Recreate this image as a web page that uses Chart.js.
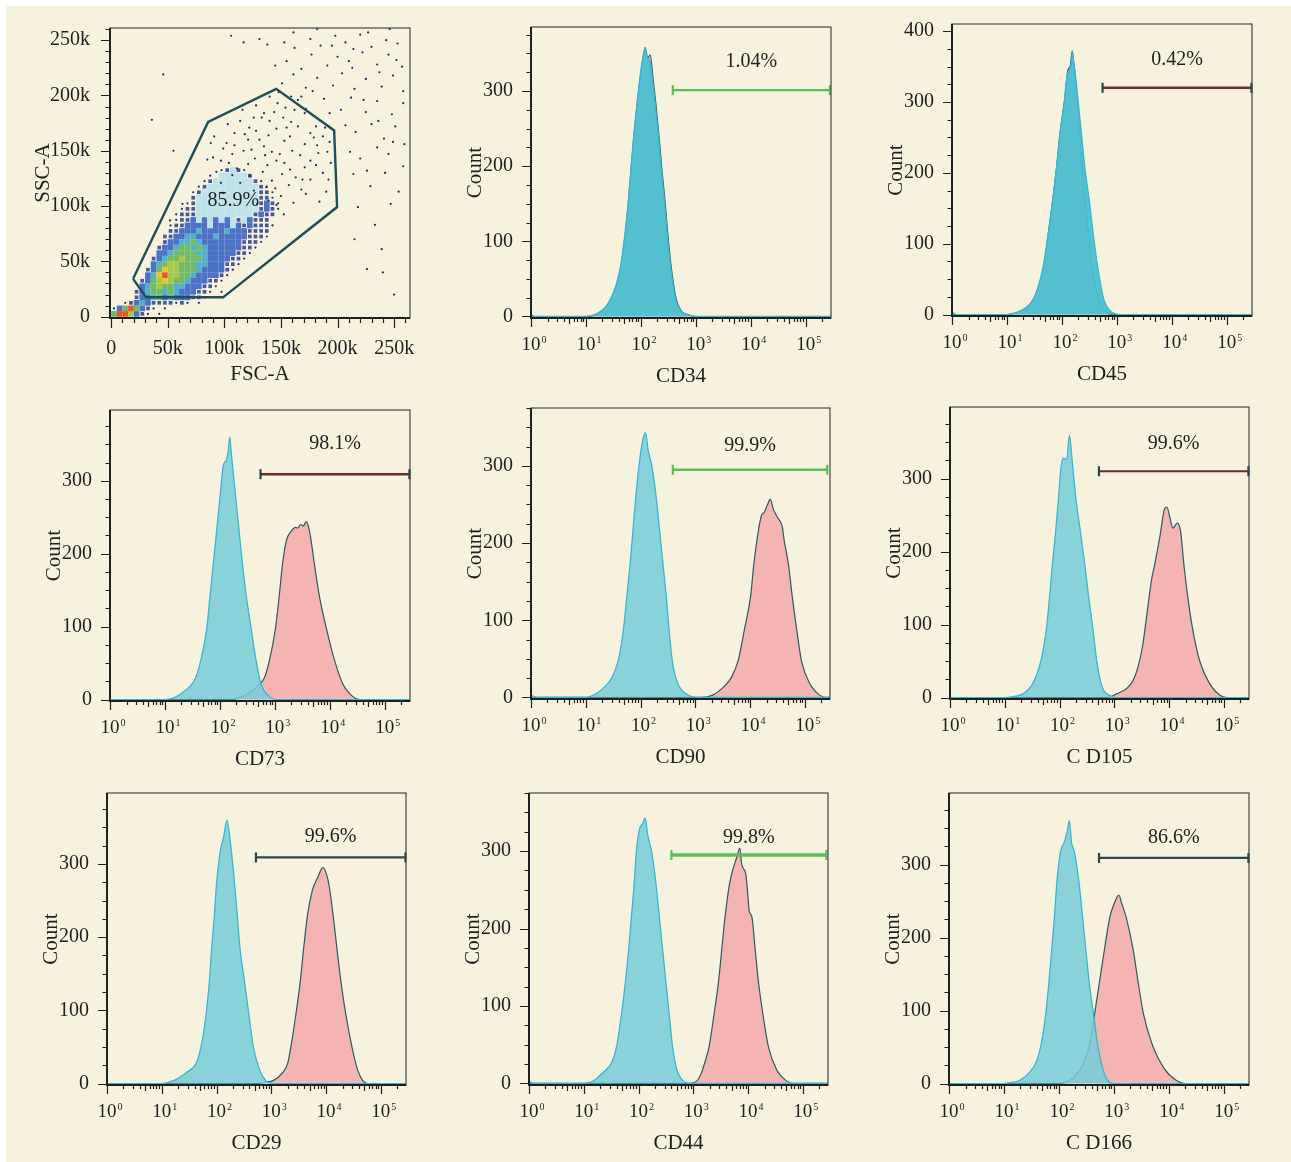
<!DOCTYPE html>
<html>
<head>
<meta charset="utf-8">
<script src="https://cdn.jsdelivr.net/npm/chart.js@4.4.1/dist/chart.umd.min.js"></script>
<style>
  body { margin: 0; background: #ffffff; }
  #page { position: absolute; left: 6px; top: 6px; width: 1285px; height: 1156px; background: #f6f2dd; }
  canvas { position: absolute; }
</style>
</head>
<body>
<div id="page"></div>
<script>
// ---------- data: histograms, [log10 fluorescence, count] ----------
const markers = ["CD34", "CD45", "CD73", "CD90", "C D105", "CD29", "CD44", "C D166"]
const gatePercent = ["1.04%", "0.42%", "98.1%", "99.9%", "99.6%", "99.6%", "99.8%", "86.6%"]
const gateFrom = [2.58, 2.74, 2.74, 2.59, 2.72, 2.72, 2.60, 2.73]
const gateTo = [5.44, 5.45, 5.45, 5.41, 5.45, 5.45, 5.43, 5.45]
const gateLevel = [301, 320, 309, 295, 310, 309, 295, 309]
const labelLevel = [339, 360, 351, 326, 348, 337, 317, 337]
const countMax = [385, 410, 397, 375, 398, 397, 375, 398]
const countTicks = [0, 100, 200, 300, 400]
const decadeMax = 5.46

const cd34Iso = [[0,2],[0.1,0],[1.0,0],[1.2,4],[1.35,12],[1.45,24],[1.55,42],[1.63,67],[1.71,110],[1.77,153],[1.82,197],[1.87,240],[1.93,283],[2.00,327],[2.05,350],[2.08,357],[2.12,345],[2.17,338],[2.22,310],[2.26,283],[2.32,240],[2.37,197],[2.43,153],[2.48,110],[2.54,67],[2.63,24],[2.72,8],[2.87,2],[3.0,0],[5.46,0]]
const cd34Stain = [[0,0],[1.0,0],[1.2,3],[1.45,22],[1.63,64],[1.71,106],[1.77,150],[1.82,194],[1.87,238],[1.93,281],[2.00,325],[2.05,348],[2.08,358],[2.11,342],[2.17,348],[2.22,318],[2.27,285],[2.33,240],[2.38,197],[2.44,153],[2.49,110],[2.55,67],[2.64,24],[2.73,8],[2.88,2],[3.0,0],[5.46,0]]
const cd45Iso = [[0,3],[0.1,0],[1.0,0],[1.17,3],[1.35,10],[1.48,22],[1.58,42],[1.66,68],[1.75,114],[1.83,160],[1.90,206],[1.96,252],[2.04,298],[2.10,340],[2.13,343],[2.17,355],[2.19,371],[2.21,360],[2.24,343],[2.30,298],[2.36,252],[2.42,206],[2.50,160],[2.57,114],[2.65,68],[2.76,22],[2.85,8],[2.94,2],[3.05,0],[5.46,0]]
const cd45Stain = [[0,0],[1.0,0],[1.2,3],[1.4,12],[1.5,24],[1.6,46],[1.68,72],[1.76,118],[1.84,165],[1.91,212],[1.97,258],[2.05,303],[2.11,345],[2.15,350],[2.19,372],[2.22,350],[2.26,320],[2.30,280],[2.35,230],[2.40,180],[2.46,130],[2.53,80],[2.60,45],[2.70,15],[2.80,4],[2.9,0],[5.46,0]]
const cd73Iso = [[0,0],[1.0,0],[1.15,2],[1.29,8],[1.44,17],[1.56,30],[1.65,53],[1.76,97],[1.82,142],[1.88,186],[1.94,231],[2.00,276],[2.06,320],[2.12,329],[2.15,340],[2.18,360],[2.20,345],[2.23,320],[2.29,276],[2.35,231],[2.41,186],[2.48,142],[2.57,97],[2.66,53],[2.75,21],[2.90,4],[3.02,0],[5.46,0]]
const cd73Stain = [[0,0],[2.2,0],[2.41,4],[2.55,10],[2.66,17],[2.81,30],[2.90,53],[3.01,97],[3.08,142],[3.14,186],[3.21,218],[3.30,231],[3.38,236],[3.42,235],[3.47,240],[3.52,238],[3.57,244],[3.62,235],[3.66,218],[3.72,186],[3.81,142],[3.94,97],[4.09,53],[4.24,21],[4.42,4],[4.54,0],[5.46,0]]
const cd90Iso = [[0,3],[0.1,0],[1.0,0],[1.19,5],[1.35,14],[1.48,26],[1.59,47],[1.69,89],[1.75,131],[1.81,173],[1.86,215],[1.91,257],[1.97,299],[2.04,333],[2.09,343],[2.14,320],[2.21,299],[2.29,257],[2.35,215],[2.41,173],[2.47,131],[2.52,89],[2.58,47],[2.68,18],[2.87,3],[3.02,0],[5.46,0]]
const cd90Stain = [[0,0],[3.1,0],[3.32,3],[3.51,13],[3.66,26],[3.78,47],[3.90,89],[4.01,131],[4.07,173],[4.15,215],[4.21,236],[4.26,240],[4.32,250],[4.37,257],[4.42,245],[4.48,236],[4.55,228],[4.59,221],[4.62,205],[4.70,173],[4.77,131],[4.85,89],[4.94,47],[5.09,18],[5.27,3],[5.40,0],[5.46,0]]
const cd105Iso = [[0,0],[1.0,0],[1.2,2],[1.33,5],[1.51,19],[1.66,50],[1.76,94],[1.82,139],[1.87,183],[1.93,228],[1.98,272],[2.03,317],[2.07,328],[2.13,326],[2.18,359],[2.24,317],[2.30,272],[2.38,228],[2.46,183],[2.53,139],[2.61,94],[2.68,50],[2.78,14],[2.91,3],[3.04,0],[5.46,0]]
const cd105Stain = [[0,0],[2.88,0],[3.04,5],[3.22,12],[3.34,23],[3.43,41],[3.52,72],[3.60,117],[3.68,161],[3.74,183],[3.83,219],[3.92,259],[3.96,261],[4.02,245],[4.07,232],[4.15,239],[4.21,228],[4.27,183],[4.34,139],[4.43,94],[4.56,50],[4.74,19],[4.93,3],[5.05,0],[5.46,0]]
const cd29Iso = [[0,0],[1.0,0],[1.14,2],[1.30,7],[1.45,15],[1.63,28],[1.72,51],[1.81,95],[1.87,140],[1.91,184],[1.96,229],[2.00,273],[2.07,318],[2.13,337],[2.19,360],[2.27,318],[2.33,273],[2.38,229],[2.43,184],[2.51,140],[2.59,95],[2.67,51],[2.78,20],[2.90,4],[3.03,0],[5.46,0]]
const cd29Stain = [[0,0],[2.72,0],[2.9,2],[3.03,4],[3.21,15],[3.30,28],[3.36,51],[3.45,95],[3.53,140],[3.59,184],[3.66,229],[3.75,264],[3.85,282],[3.94,295],[4.05,273],[4.13,229],[4.20,184],[4.27,140],[4.36,95],[4.47,51],[4.57,20],[4.67,4],[4.76,0],[5.46,0]]
const cd44Iso = [[0,3],[0.1,0],[1.0,0],[1.17,3],[1.35,14],[1.51,27],[1.60,48],[1.69,90],[1.76,131],[1.82,173],[1.87,215],[1.92,257],[1.96,299],[2.02,329],[2.08,336],[2.12,343],[2.17,320],[2.24,299],[2.32,257],[2.38,215],[2.44,173],[2.50,131],[2.56,90],[2.62,48],[2.70,18],[2.82,3],[2.94,0],[5.46,0]]
const cd44Stain = [[0,0],[2.88,0],[3.06,3],[3.15,14],[3.21,27],[3.29,48],[3.38,90],[3.46,131],[3.52,173],[3.58,215],[3.66,257],[3.73,278],[3.79,291],[3.85,304],[3.88,285],[3.91,278],[3.96,270],[4.00,240],[4.02,223],[4.07,215],[4.13,173],[4.19,131],[4.27,90],[4.37,48],[4.52,18],[4.71,3],[4.83,0],[5.46,0]]
const cd166Iso = [[0,0],[1.0,0],[1.15,2],[1.28,4],[1.46,15],[1.58,28],[1.67,51],[1.76,95],[1.82,140],[1.87,184],[1.92,229],[1.96,273],[2.03,318],[2.10,331],[2.15,345],[2.19,360],[2.23,330],[2.28,318],[2.37,273],[2.43,229],[2.49,184],[2.55,140],[2.63,95],[2.71,51],[2.80,20],[2.89,4],[2.98,0],[5.46,0]]
const cd166Stain = [[0,0],[1.95,0],[2.13,2],[2.31,11],[2.45,28],[2.55,51],[2.65,95],[2.74,140],[2.83,184],[2.93,229],[3.01,247],[3.09,258],[3.15,245],[3.22,229],[3.35,184],[3.44,140],[3.54,95],[3.71,51],[3.92,20],[4.14,4],[4.29,0],[5.46,0]]

const isoCurves = [cd34Iso, cd45Iso, cd73Iso, cd90Iso, cd105Iso, cd29Iso, cd44Iso, cd166Iso]
const stainCurves = [cd34Stain, cd45Stain, cd73Stain, cd90Stain, cd105Stain, cd29Stain, cd44Stain, cd166Stain]

// ---------- data: FSC/SSC dot plot (thousands) ----------
const scatterTicks = [0, 50, 100, 150, 200, 250]
const gateFsc = [19.4, 30.9, 98.9, 199.6, 197, 145.8, 85.7, 19.4]
const gateSsc = [34.2, 17.5, 17.5, 99.1, 168.4, 206, 176, 34.2]
const cellGate = "85.9%"
const cellSize = 5   // density map cell, k units
// [row, first column, density codes]  . sparse  b/B blue  C/c cyan  g/G green  y yellow  r red
const densityRows = [
  [0, 0, "grrGBb. ."],
  [1, 0, ".BgrgBb. ."],
  [2, 2, ".bBCBbbbb.b. ."],
  [3, 4, "bBBCgBCBBBbb. ."],
  [4, 4, "bBCggCgCBBBbb. ."],
  [5, 5, "BCgGggCCBBBbb."],
  [6, 5, "bBgGyGggCBBBbb."],
  [7, 6, "BCyrGGggCBBBBb."],
  [8, 6, "bBgyGGgggCBBBBb."],
  [9, 7, "BCgGGgggCCBBBbb."],
  [10, 7, "bBCggGgggCBBBBbb."],
  [11, 8, "BBCggggCCBBBBBbb."],
  [12, 8, "bBBCggCgCBBBBBBbb."],
  [13, 9, "bBBCCgCBBBBBBBbbb."],
  [14, 9, "bbBBCCBBBCBBBBBbbb."],
  [15, 10, "bbBBBCBBBBCBBBbbbb"],
  [16, 10, ".bbBBBBcBBBcBbBbbb."],
  [17, 11, ".bbBcBcBcBcbcBbbb"],
  [18, 11, ".bbbccccccccccbBbb ."],
  [19, 12, ".bbcccccccccccbBb."],
  [20, 13, ".bcccccccccccbBb."],
  [21, 14, "bcccccccccccbb."],
  [22, 14, ".bccccccccccbb."],
  [23, 15, ".bcccccccccb."],
  [24, 16, ".bcccccccb."],
  [25, 17, ". cccccb"],
  [26, 19, ".bcb."]
]
// single events [FSC-A, SSC-A]
const sparseEvents = [
  [129,102],[139,105],[146,101],[150,109],[161,103],[172,111],[184,104],[126,114],[137,117],[145,116],
  [157,119],[168,115],[176,124],[190,113],[123,127],[134,131],[142,123],[151,129],[163,126],[171,135],
  [187,130],[93,131],[104,139],[111,134],[121,138],[127,143],[138,137],[146,141],[153,139],[167,146],
  [176,141],[191,149],[90,144],[99,152],[107,147],[117,150],[124,151],[135,154],[142,149],[153,159],
  [160,150],[171,156],[182,155],[193,158],[91,163],[102,157],[109,166],[121,160],[128,168],[139,164],
  [146,170],[158,163],[165,172],[176,166],[187,163],[103,174],[114,177],[122,171],[133,180],[140,177],
  [152,180],[159,176],[171,184],[181,172],[116,187],[128,191],[135,184],[147,193],[154,189],[165,196],
  [172,188],[140,199],[148,203],[159,199],[97,121],[107,128],[114,121],[85,142],[88,157],[194,139],
  [192,124],[99,112],[189,171],[177,183],[158,133],[181,137],[169,124],[149,147],[131,160],[118,165],
  [144,185],[162,187],[183,148],[179,162],[126,180],[136,146],[155,171],[109,155],[97,141],
  [151,211],[161,219],[172,207],[182,216],[196,209],[204,220],[215,206],[225,215],[239,208],[249,218],
  [258,204],[145,227],[155,231],[168,224],[177,237],[191,227],[200,235],[213,225],[222,239],[235,228],
  [245,237],[257,226],[138,246],[153,248],[162,243],[176,251],[185,245],[198,254],[207,248],[220,255],
  [230,244],[243,250],[253,247],[161,257],[182,260],[227,257],[246,260],[131,251],[117,248],[106,254],
  [188,197],[203,187],[212,198],[225,185],[235,195],[248,183],[258,193],[207,173],[216,167],[230,174],
  [241,161],[251,172],[211,149],[220,143],[235,153],[245,147],[258,136],[214,129],[229,118],[242,130],
  [254,113],[218,99],[233,83],[247,102],[239,61],[226,43],[215,70],[259,156],[195,245],[210,231],
  [168,199],[178,204],[193,184],[223,196],[237,221],[252,232],[214,242],[236,177],[249,158],[226,132],
  [36,178],[46,219],[55,150],[63,102],[52,87],[240,40],[250,20]
]

// ---------- layout and styles ----------
const serif = "'Liberation Serif', 'Times New Roman', 'DejaVu Serif', serif"
const ink = '#1f1f1f'
// plot area of each histogram on the page: left, top, right, bottom
const histBoxes = [[531,21,831,318],[952,18,1252,316],[110,404,410,701],[531,402,830,699],
                   [950,401,1249,699],[107,787,406,1085],[529,787,828,1085],[949,787,1249,1085]]
const isoFill = ['rgba(76,192,208,0.96)', 'rgba(76,192,208,0.96)', 'rgba(120,205,218,0.86)', 'rgba(120,205,218,0.86)',
                 'rgba(120,205,218,0.86)', 'rgba(120,205,218,0.86)', 'rgba(120,205,218,0.86)', 'rgba(120,205,218,0.86)']
const gateColor = ['#5dbd58', '#6e2b36', '#6e2b36', '#5dbd58', '#6e2b36', '#2e4653', '#5dbd58', '#2e4653']
const capColor = ['#5dbd58', '#22474f', '#22474f', '#5dbd58', '#22474f', '#22474f', '#5dbd58', '#22474f']
const gateWidth = [2.4, 2.4, 2.6, 2.6, 2.2, 2.2, 3.4, 2.2]
const cellStyles = {
  'b': ['rgba(40,60,145,0.85)', 2.6], 'B': ['rgba(58,100,196,0.9)', 4.0], 'C': ['rgba(66,168,200,0.9)', 4.0],
  'c': ['#bfe3ea', 4.0], 'g': ['#72ba66', 4.0], 'G': ['#a6c948', 4.0], 'y': ['#ecc233', 4.0], 'r': ['#e2582b', 4.0]
}

function makeCanvas(left, top, w, h) {
  const c = document.createElement('canvas')
  c.width = w
  c.height = h
  c.style.left = left + 'px'
  c.style.top = top + 'px'
  c.style.width = w + 'px'
  c.style.height = h + 'px'
  document.body.appendChild(c)
  return c
}

function fixedTicks(values) {
  return axis => {
    axis.ticks = values.filter(v => v >= axis.min && v <= axis.max).map(v => ({ value: v }))
  }
}

// frame, outside tick marks, decade labels and gate text
const flowAxes = {
  id: 'flowAxes',
  afterDraw(chart, args, o) {
    const ctx = chart.ctx, a = chart.chartArea
    const x = chart.scales.x, y = chart.scales.y
    ctx.save()
    ctx.strokeStyle = '#454545'
    ctx.lineWidth = 1.2
    ctx.strokeRect(a.left, a.top, a.right - a.left, a.bottom - a.top)
    ctx.strokeStyle = ink
    ctx.lineWidth = 2
    ctx.beginPath()
    ctx.moveTo(a.left, a.top)
    ctx.lineTo(a.left, a.bottom)
    ctx.lineTo(a.right, a.bottom)
    ctx.stroke()

    ctx.lineWidth = 1.2
    ctx.beginPath()
    for (let v = 0; v <= y.max; v += o.yMinor) {
      const py = Math.round(y.getPixelForValue(v)) + 0.5
      const len = v % o.yMajor === 0 ? 9 : 4.5
      ctx.moveTo(a.left - len, py)
      ctx.lineTo(a.left, py)
    }
    if (o.log) {
      for (let k = 0; k <= 5; k++) {
        for (let m = 1; m <= 9; m++) {
          const v = m * Math.pow(10, k)
          if (v > x.max) continue
          const px = Math.round(x.getPixelForValue(v)) + 0.5
          const len = m === 1 ? 9 : (m === 5 ? 6 : 4)
          ctx.moveTo(px, a.bottom)
          ctx.lineTo(px, a.bottom + len)
        }
      }
    } else {
      for (let v = 0; v <= x.max; v += o.xMinor) {
        const px = Math.round(x.getPixelForValue(v)) + 0.5
        const len = v % o.xMajor === 0 ? 10 : 5
        ctx.moveTo(px, a.bottom)
        ctx.lineTo(px, a.bottom + len)
      }
    }
    ctx.stroke()

    ctx.fillStyle = ink
    if (o.log) {
      for (let k = 0; k <= 5; k++) {
        const px = x.getPixelForValue(Math.pow(10, k))
        ctx.font = '19px ' + serif
        ctx.textAlign = 'center'
        ctx.textBaseline = 'alphabetic'
        ctx.fillText('10', px, a.bottom + 32)
        const w = ctx.measureText('10').width
        ctx.font = '10px ' + serif
        ctx.textAlign = 'left'
        ctx.fillText(String(k), px + w / 2 + 1, a.bottom + 25)
      }
    }
    if (o.label) {
      ctx.font = '20px ' + serif
      ctx.textAlign = 'center'
      ctx.textBaseline = 'middle'
      ctx.fillText(o.label.text, x.getPixelForValue(o.label.x), y.getPixelForValue(o.label.y))
    }
    ctx.restore()
  }
}

// ---------- histograms ----------
function drawHistogram(i) {
  const [L, T, R, B] = histBoxes[i]
  const yW = 72, xH = 75, pad = 16
  const canvas = makeCanvas(L - yW, T - pad, yW + (R - L) + pad, pad + (B - T) + xH)
  const toPoints = arr => arr.map(p => ({ x: Math.pow(10, p[0]), y: p[1] }))

  new Chart(canvas, {
    type: 'line',
    data: {
      datasets: [
        {
          data: [{ x: Math.pow(10, gateFrom[i]), y: gateLevel[i] }, { x: Math.pow(10, gateTo[i]), y: gateLevel[i] }],
          borderColor: gateColor[i], borderWidth: gateWidth[i],
          pointStyle: 'line', rotation: 90, pointRadius: 5, pointBorderWidth: 2.2,
          pointBorderColor: capColor[i], fill: false, clip: false, order: 0
        },
        {
          data: toPoints(isoCurves[i]),
          borderColor: '#3ab6cf', borderWidth: 1.3, backgroundColor: isoFill[i],
          fill: 'origin', pointRadius: 0, cubicInterpolationMode: 'monotone', order: 1
        },
        {
          data: toPoints(stainCurves[i]),
          borderColor: '#2f5862', borderWidth: 1.2, backgroundColor: '#f4b4b1',
          fill: 'origin', pointRadius: 0, cubicInterpolationMode: 'monotone', order: 2
        }
      ]
    },
    options: {
      responsive: false,
      animation: false,
      events: [],
      layout: { padding: { top: pad, right: pad, left: 0, bottom: 0 } },
      plugins: {
        legend: { display: false },
        tooltip: { enabled: false },
        flowAxes: {
          log: true, yMinor: 25, yMajor: 100,
          label: { text: gatePercent[i], x: Math.pow(10, (gateFrom[i] + gateTo[i]) / 2), y: labelLevel[i] }
        }
      },
      scales: {
        x: {
          type: 'logarithmic', min: 1, max: Math.pow(10, decadeMax),
          grid: { display: false }, border: { display: false },
          ticks: { display: false },
          afterFit: s => { s.height = xH },
          title: { display: true, text: markers[i], color: ink, font: { family: serif, size: 21 } }
        },
        y: {
          min: -2, max: countMax[i],
          grid: { display: false }, border: { display: false },
          afterBuildTicks: fixedTicks(countTicks),
          ticks: { padding: 10, color: ink, font: { family: serif, size: 20 }, callback: v => String(v) },
          afterFit: s => { s.width = yW },
          title: { display: true, text: 'Count', color: ink, font: { family: serif, size: 21 } }
        }
      }
    },
    plugins: [flowAxes]
  })
}

// ---------- FSC / SSC dot plot ----------
function drawScatter() {
  const L = 110, T = 20, R = 410, B = 318
  const yW = 83, xH = 73, pad = 16
  const canvas = makeCanvas(L - yW, T - pad, yW + (R - L) + pad, pad + (B - T) + xH)

  const groups = {}
  const dots = sparseEvents.map(e => ({ x: e[0] * 1000, y: e[1] * 1000 }))
  densityRows.forEach(([row, start, codes]) => {
    for (let j = 0; j < codes.length; j++) {
      const ch = codes[j]
      if (ch === ' ') continue
      const pt = { x: (start + j + 0.5) * cellSize * 1000, y: (row + 0.5) * cellSize * 1000 }
      if (ch === '.') { dots.push(pt); continue }
      if (!groups[ch]) groups[ch] = []
      groups[ch].push(pt)
    }
  })

  const datasets = [{
    type: 'line',
    data: gateFsc.map((f, k) => ({ x: f * 1000, y: gateSsc[k] * 1000 })),
    borderColor: '#1f4e56', borderWidth: 2.4, pointRadius: 0, fill: false, order: 0
  }]
  'bBCcgGyr'.split('').forEach((ch, k) => {
    datasets.push({
      data: groups[ch] || [],
      pointStyle: 'rect', pointRadius: cellStyles[ch][1], borderWidth: 0,
      backgroundColor: cellStyles[ch][0], order: 10 - k
    })
  })
  datasets.push({ data: dots, pointRadius: 1.1, borderWidth: 0, backgroundColor: '#1d2b66', order: 1 })

  const kLabel = v => v === 0 ? '0' : (v / 1000) + 'k'
  const kTicks = scatterTicks.map(v => v * 1000)

  new Chart(canvas, {
    type: 'scatter',
    data: { datasets: datasets },
    options: {
      responsive: false,
      animation: false,
      events: [],
      layout: { padding: { top: pad, right: pad, left: 0, bottom: 0 } },
      plugins: {
        legend: { display: false },
        tooltip: { enabled: false },
        flowAxes: {
          log: false, yMinor: 10000, yMajor: 50000, xMinor: 10000, xMajor: 50000,
          label: { text: cellGate, x: 108000, y: 105000 }
        }
      },
      scales: {
        x: {
          type: 'linear', min: -1000, max: 264000,
          grid: { display: false }, border: { display: false },
          afterBuildTicks: fixedTicks(kTicks),
          ticks: {
            padding: 11, maxRotation: 0, autoSkip: false,
            color: ink, font: { family: serif, size: 20 }, callback: kLabel
          },
          afterFit: s => { s.height = xH },
          title: { display: true, text: 'FSC-A', color: ink, font: { family: serif, size: 21 } }
        },
        y: {
          min: -1200, max: 261000,
          grid: { display: false }, border: { display: false },
          afterBuildTicks: fixedTicks(kTicks),
          ticks: { padding: 12, color: ink, font: { family: serif, size: 20 }, callback: kLabel },
          afterFit: s => { s.width = yW },
          title: { display: true, text: 'SSC-A', color: ink, font: { family: serif, size: 21 } }
        }
      }
    },
    plugins: [flowAxes]
  })
}

drawScatter()
for (let i = 0; i < markers.length; i++) drawHistogram(i)
</script>
</body>
</html>
